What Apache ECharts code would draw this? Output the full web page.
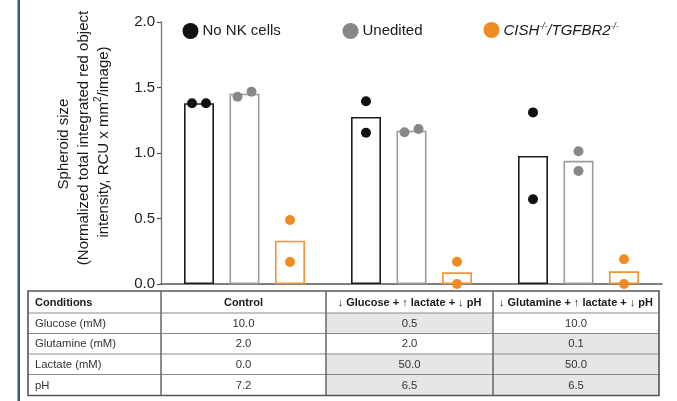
<!DOCTYPE html>
<html>
<head>
<meta charset="utf-8">
<script src="https://cdn.jsdelivr.net/npm/echarts@6/dist/echarts.min.js"></script>
<style>
html,body{margin:0;padding:0;background:#fff;}
#chart{width:677px;height:401px;}
</style>
</head>
<body>
<div id="chart"></div>
<script>
// ---- data ----
const categories = ['Control', '↓ Glucose + ↑ lactate + ↓ pH', '↓ Glutamine + ↑ lactate + ↓ pH'];
const seriesNames = ['No NK cells', 'Unedited', 'CISH-/-/TGFBR2-/-'];
const barNoNK = [1.38, 1.275, 0.977];
const barUnedited = [1.453, 1.17, 0.94];
const barCISH = [0.33, 0.089, 0.097];
const ptsNoNK = [[1.38, 1.38], [1.395, 1.155], [1.31, 0.647]];
const ptsUnedited = [[1.43, 1.468], [1.158, 1.183], [1.013, 0.863]];
const ptsCISH = [[0.489, 0.168], [0.17, 0.0], [0.189, 0.0]];
// horizontal jitter of replicate dots (-1 left, 0 centre, 1 right)
const jitNoNK = [[-1, 1], [0, 0], [0, 0]];
const jitUnedited = [[-1, 1], [-1, 1], [0, 0]];
const jitCISH = [[0, 0], [0, 0], [0, 0]];
const yTicks = [0, 0.5, 1.0, 1.5, 2.0];
const yTitleLines = ['Spheroid size', '(Normalized total integrated red object', 'intensity, RCU x mm{s|2}/image)'];
const tableHeader = ['Conditions', 'Control', '↓ Glucose + ↑ lactate + ↓ pH', '↓ Glutamine + ↑ lactate + ↓ pH'];
const tableRowLabels = ['Glucose (mM)', 'Glutamine (mM)', 'Lactate (mM)', 'pH'];
const tableControl = [10.0, 2.0, 0.0, 7.2];
const tableLowGlucose = [0.5, 2.0, 50.0, 6.5];
const tableLowGlutamine = [10.0, 0.1, 50.0, 6.5];

// ---- layout ----
const W = 677, H = 401;
const gridL = 161, gridR = 15, gridT = 22, gridB = 117;
const catW = (W - gridL - gridR) / categories.length;
const barW = 30, barGapPx = 15.5;
const seriesStep = (barW + barGapPx) / catW;
const jitStep = 7 / catW;
const FONT = '"Liberation Sans", Arial, Helvetica, sans-serif';
const colors = ['#111111', '#878787', '#f28a24'];
const barBorders = ['#1c1c1c', '#9c9c9c', '#f39237'];

const bars = [barNoNK, barUnedited, barCISH];
const pts = [ptsNoNK, ptsUnedited, ptsCISH];
const jits = [jitNoNK, jitUnedited, jitCISH];

const series = [];
bars.forEach((b, s) => {
  series.push({
    type: 'bar', name: 'bar' + s, xAxisIndex: 0, yAxisIndex: 0,
    data: b, barWidth: barW, barGap: (barGapPx / barW * 100) + '%',
    itemStyle: { color: '#ffffff', borderColor: barBorders[s], borderWidth: 1.6 },
    silent: true, z: 2
  });
});
pts.forEach((p, s) => {
  const d = [];
  p.forEach((vals, g) => {
    vals.forEach((v, k) => {
      d.push([g + 0.5 + (s - 1) * seriesStep + jits[s][g][k] * jitStep, v]);
    });
  });
  series.push({
    type: 'scatter', name: seriesNames[s], xAxisIndex: 1, yAxisIndex: 0,
    data: d, symbolSize: 10, itemStyle: { color: colors[s], opacity: 1 },
    clip: false, silent: true, z: 5
  });
});

// ---- table graphic ----
const colX = [28, 161, 326, 493, 659];
const rowY = [291, 313, 333.5, 354, 374.5, 395.5];
const graphics = [];
const condCols = [tableControl, tableLowGlucose, tableLowGlutamine];
for (let c = 1; c < condCols.length; c++) {
  for (let r = 0; r < tableRowLabels.length; r++) {
    if (condCols[c][r] !== tableControl[r]) {
      graphics.push({ type: 'rect', shape: { x: colX[c + 1], y: rowY[r + 1], width: colX[c + 2] - colX[c + 1], height: rowY[r + 2] - rowY[r + 1] }, style: { fill: '#e6e6e6' }, silent: true });
    }
  }
}
for (let r = 1; r < rowY.length - 1; r++) {
  graphics.push({ type: 'line', shape: { x1: colX[0], y1: rowY[r], x2: colX[colX.length - 1], y2: rowY[r] }, style: { stroke: '#8a8a8a', lineWidth: 1.2 }, silent: true });
}
for (let c = 1; c < colX.length - 1; c++) {
  graphics.push({ type: 'line', shape: { x1: colX[c], y1: rowY[0], x2: colX[c], y2: rowY[rowY.length - 1] }, style: { stroke: '#666666', lineWidth: 1.5 }, silent: true });
}
graphics.push({ type: 'rect', shape: { x: colX[0], y: rowY[0], width: colX[colX.length - 1] - colX[0], height: rowY[rowY.length - 1] - rowY[0] }, style: { fill: 'none', stroke: '#555555', lineWidth: 1.6 }, silent: true });
tableHeader.forEach((t, c) => {
  const left = c === 0;
  graphics.push({ type: 'text', x: left ? colX[0] + 7 : (colX[c] + colX[c + 1]) / 2, y: (rowY[0] + rowY[1]) / 2 + 0.5,
    style: { text: t, fontSize: 11, fontWeight: 'bold', fontFamily: FONT, fill: '#1a1a1a', align: left ? 'left' : 'center', verticalAlign: 'middle' }, silent: true });
});
tableRowLabels.forEach((lab, r) => {
  const cy = (rowY[r + 1] + rowY[r + 2]) / 2 + 0.5;
  graphics.push({ type: 'text', x: colX[0] + 7, y: cy, style: { text: lab, fontSize: 11.3, fontFamily: FONT, fill: '#333', align: 'left', verticalAlign: 'middle' }, silent: true });
  condCols.forEach((col, c) => {
    graphics.push({ type: 'text', x: (colX[c + 1] + colX[c + 2]) / 2, y: cy, style: { text: col[r].toFixed(1), fontSize: 11.3, fontFamily: FONT, fill: '#333', align: 'center', verticalAlign: 'middle' }, silent: true });
  });
});
// left blue rule
graphics.push({ type: 'rect', shape: { x: 17.5, y: 0, width: 2.5, height: H }, style: { fill: '#2c5a92' }, silent: true, z: 10 });
// y axis title, one rotated text per line
const titleX = [62, 82, 102];
const titleY = [144, 138, 142];
yTitleLines.forEach((ln, i) => {
  graphics.push({ type: 'text', x: titleX[i], y: titleY[i], rotation: Math.PI / 2,
    style: { text: '{t|' + ln.replace('{s|2}', '}{s|2}{t|') + '}', align: 'center', verticalAlign: 'middle',
      rich: { t: { fontSize: 15, fontFamily: FONT, lineHeight: 18, fill: '#1a1a1a', verticalAlign: 'bottom' },
              s: { fontSize: 10, fontFamily: FONT, lineHeight: 18, fill: '#1a1a1a', verticalAlign: 'top' } } },
    silent: true });
});

const legendBase = { orient: 'horizontal', top: 23, padding: 0, icon: 'circle', itemWidth: 16, itemHeight: 16, itemGap: 0, selectedMode: false,
  textStyle: { fontSize: 15, fontFamily: FONT, color: '#1a1a1a', padding: [0, 0, 0, -1] } };

const option = {
  animation: false,
  backgroundColor: '#ffffff',
  grid: { left: gridL, right: gridR, top: gridT, bottom: gridB, containLabel: false },
  legend: [
    Object.assign({}, legendBase, { left: 182.5, data: [seriesNames[0]] }),
    Object.assign({}, legendBase, { left: 342.5, data: [seriesNames[1]] }),
    Object.assign({}, legendBase, { left: 483.5, top: 22, data: [seriesNames[2]],
      formatter: () => '{i|CISH}{s|-/-}{i|/TGFBR2}{s|-/-}',
      textStyle: { fontSize: 15, fontFamily: FONT, color: '#1a1a1a', padding: [0, 0, 0, -1],
        rich: { i: { fontSize: 15, fontStyle: 'italic', fontFamily: FONT, color: '#1a1a1a', lineHeight: 16, verticalAlign: 'bottom' },
                s: { fontSize: 8.5, fontStyle: 'italic', fontFamily: FONT, color: '#1a1a1a', lineHeight: 16, verticalAlign: 'top' } } } })
  ],
  xAxis: [
    { type: 'category', data: categories, axisLine: { lineStyle: { color: '#555', width: 1.5 } },
      axisTick: { alignWithLabel: true, length: 4, lineStyle: { color: '#555', width: 1.2 } },
      axisLabel: { show: false }, splitLine: { show: false } },
    { type: 'value', min: 0, max: categories.length, show: false }
  ],
  yAxis: [{
    type: 'value', min: yTicks[0], max: yTicks[yTicks.length - 1], interval: yTicks[1] - yTicks[0],
    axisLine: { show: true, lineStyle: { color: '#777', width: 1.3 } },
    axisTick: { show: true, length: 4, lineStyle: { color: '#555', width: 1.2 } },
    axisLabel: { fontSize: 15, fontFamily: FONT, color: '#222', margin: 6, formatter: v => v.toFixed(1) },
    splitLine: { show: false }
  }],
  series: series,
  graphic: graphics
};

const chart = echarts.init(document.getElementById('chart'), null, { renderer: 'canvas' });
chart.setOption(option);
</script>
</body>
</html>
